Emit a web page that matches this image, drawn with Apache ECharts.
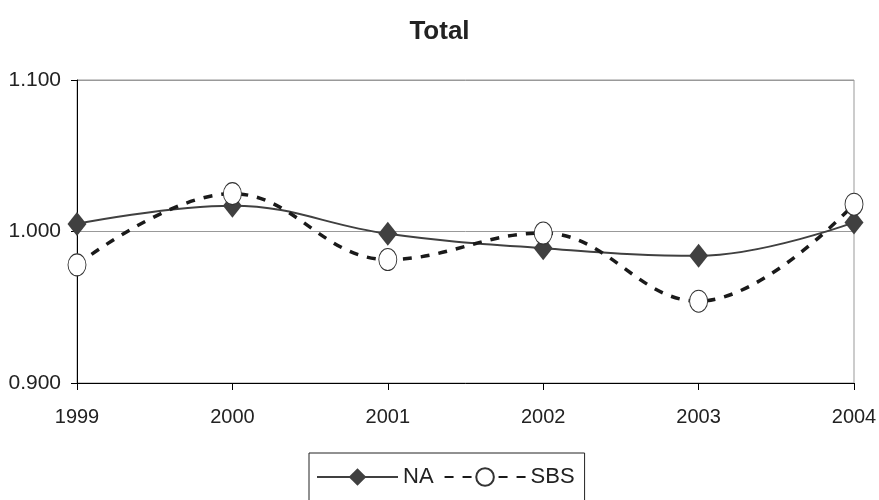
<!DOCTYPE html>
<html>
<head>
<meta charset="utf-8">
<script src="https://cdn.jsdelivr.net/npm/echarts@6/dist/echarts.min.js"></script>
<style>html,body{margin:0;padding:0;background:#fff}#c{width:879px;height:500px}</style>
</head>
<body>
<div id="c"></div>
<script>
const categories = ['1999', '2000', '2001', '2002', '2003', '2004'];
const naValues = [1.005, 1.017, 0.9985, 0.989, 0.984, 1.006];
const sbsValues = [0.978, 1.025, 0.9815, 0.999, 0.954, 1.018];
const yTicks = { min: 0.9, max: 1.1, interval: 0.1 };

const font = '"Liberation Sans", Arial, sans-serif';
const chart = echarts.init(document.getElementById('c'), null, { renderer: 'canvas' });
chart.setOption({
  animation: false,
  backgroundColor: '#fff',
  title: {
    text: 'Total', left: 'center', top: 14,
    textStyle: { fontFamily: font, fontSize: 26, fontWeight: 'bold', color: '#222' }
  },
  legend: {
    top: 453, left: 309,
    data: ['NA', 'SBS'],
    itemWidth: 81, itemHeight: 22, itemGap: 10,
    borderColor: '#222', borderWidth: 1, padding: [13, 10, 30, 7],
    textStyle: { fontFamily: font, fontSize: 22, color: '#222' }
  },
  grid: { left: 77, right: 25, top: 80, bottom: 117, containLabel: false, outerBoundsMode: 'none',
          show: true, borderColor: '#999', borderWidth: 1 },
  xAxis: {
    type: 'category', data: categories, boundaryGap: false,
    axisLine: { lineStyle: { color: '#000', width: 1 } },
    axisTick: { show: true, length: 7, lineStyle: { color: '#000' } },
    axisLabel: { fontFamily: font, fontSize: 20, color: '#222', margin: 24 }
  },
  yAxis: {
    type: 'value', min: yTicks.min, max: yTicks.max, interval: yTicks.interval,
    axisLine: { show: true, lineStyle: { color: '#000', width: 1 } },
    axisTick: { show: true, length: 6, lineStyle: { color: '#000' } },
    splitLine: { lineStyle: { color: '#999', width: 1 } },
    axisLabel: { fontFamily: font, fontSize: 21, color: '#222', margin: 16, formatter: v => v.toFixed(3) }
  },
  series: [
    {
      name: 'NA', type: 'line', data: naValues, smooth: 0.4,
      symbol: 'diamond', symbolSize: [19, 24],
      lineStyle: { color: '#404040', width: 2 },
      itemStyle: { color: '#404040', borderWidth: 0 },
      z: 3
    },
    {
      name: 'SBS', type: 'line', data: sbsValues, smooth: 0.4,
      symbol: 'circle', symbolSize: [18, 22],
      lineStyle: { color: '#1a1a1a', width: 3.5, type: [9, 9] },
      itemStyle: { color: '#fff', borderColor: '#333', borderWidth: 1 },
      z: 4
    }
  ]
});
</script>
</body>
</html>
